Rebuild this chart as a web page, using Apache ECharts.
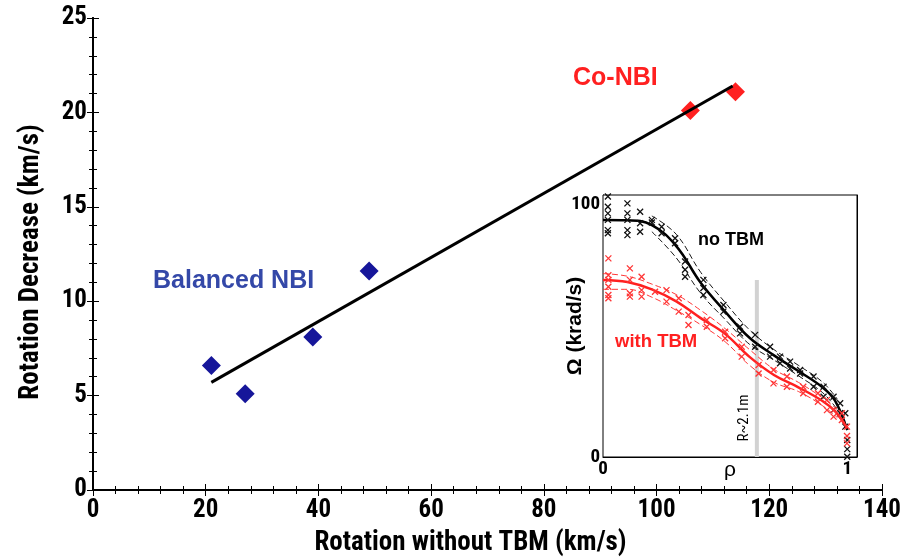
<!DOCTYPE html>
<html>
<head>
<meta charset="utf-8">
<script src="https://cdn.jsdelivr.net/npm/echarts@6/dist/echarts.min.js"></script>
<style>
html,body{margin:0;padding:0;background:#fff;}
#chart{width:913px;height:559px;}
</style>
</head>
<body>
<div id="chart"></div>
<script>
// ---- Main plot data ----
const balancedX = [21, 27, 39, 49];
const balancedY = [6.6, 5.1, 8.1, 11.6];
const coX = [106, 114];
const coY = [20.1, 21.1];
const fitX = [21, 113.5];
const fitY = [5.7, 21.4];
const xTicks = [0, 20, 40, 60, 80, 100, 120, 140];
const yTicks = [0, 5, 10, 15, 20, 25];

// ---- Inset data: no TBM (black) ----
const noTbmFitRho = [0, 0.1, 0.2, 0.3, 0.4, 0.5, 0.6, 0.7, 0.8, 0.9, 0.95, 1.0];
const noTbmFitOmega = [90.5, 90.4, 88.5, 80.5, 66.5, 55.5, 45.5, 38.8, 32.8, 26.5, 21.5, 10.3];
const noTbmUpRho = [0.2, 0.3, 0.4, 0.5, 0.6, 0.7, 0.8, 0.9, 0.96];
const noTbmUpOmega = [92, 85, 70.5, 59, 48.5, 41, 35, 28.5, 22];
const noTbmLoRho = [0.2, 0.3, 0.4, 0.5, 0.6, 0.7, 0.8, 0.9, 0.96];
const noTbmLoOmega = [86, 76, 62.5, 52.5, 43, 37, 31, 24.5, 18];
const noTbmPtRho = [0.02,0.02,0.02,0.02,0.02,0.02, 0.1,0.1,0.1,0.1,0.1, 0.152,0.152,0.152, 0.2,0.2, 0.24,0.24, 0.295,0.295, 0.336,0.336,0.336, 0.411,0.411,0.411, 0.493,0.493, 0.561,0.561, 0.623,0.623, 0.684,0.684, 0.725,0.725, 0.766,0.766, 0.807,0.807, 0.862,0.862, 0.903,0.903, 0.944,0.944, 0.971,0.971, 0.992,0.992, 1.0,1.0,1.0];
const noTbmPtOmega = [99.4,95.5,93,90.5,86.6,85.4, 96.8,93,90.5,86.6,84.7, 93.6,89.2,86.0, 90.5,89.5, 87.9,85.4, 83.5,81.6, 74.6,71.5,68.8, 67.6,64.5,61.8, 58,55.5, 49.7,47.2, 46.6,42.1, 42.1,38.3, 38.3,35.8, 36.4,33.8, 33.2,31.9, 30.7,26.8, 26.8,23, 23,17.9, 20.5,16.7, 16.7,11.6, 6.5,3.0,0.1];

// ---- Inset data: with TBM (red) ----
const withTbmFitRho = [0, 0.1, 0.2, 0.3, 0.4, 0.5, 0.6, 0.7, 0.8, 0.9, 0.95, 1.0];
const withTbmFitOmega = [67.6, 66.8, 64.0, 59.4, 53.0, 47.0, 38.2, 31.3, 26.6, 21.3, 17.5, 10.9];
const withTbmUpRho = [0, 0.1, 0.2, 0.3, 0.4, 0.5, 0.6, 0.7, 0.8, 0.9, 0.96];
const withTbmUpOmega = [70, 69, 66, 62, 56, 49, 41, 33.5, 28.5, 22.5, 18];
const withTbmLoRho = [0, 0.1, 0.2, 0.3, 0.4, 0.5, 0.6, 0.7, 0.8, 0.9, 0.96];
const withTbmLoOmega = [64, 64, 61, 56, 50.5, 44, 35, 28.5, 25, 19.5, 15];
const withTbmPtRho = [0.022,0.022,0.022,0.022,0.022,0.022, 0.11,0.11,0.11,0.11, 0.158,0.158,0.158, 0.213, 0.26,0.26, 0.31,0.31, 0.35,0.35, 0.425,0.425, 0.5,0.5, 0.568,0.568, 0.637,0.637, 0.698,0.698, 0.753,0.753, 0.82,0.82, 0.88,0.88, 0.917,0.917, 0.944,0.944, 0.978,0.978, 0.999,0.999,0.999];
const withTbmPtOmega = [75.8,69.4,67.6,65.0,61.8,60.6, 72,67.6,62.5,61.2, 68.8,63.7,61.2, 63.1, 63.7,59.3, 60.6,55.5, 54.2,50.4, 52.3,49.7, 47.8,45.3, 42.1,38.3, 35.1,31.9, 33.2,28.1, 30.7,26.8, 26.8,24.3, 24.3,21.1, 21.8,17.9, 17.9,15.4, 16.7,14.1, 11.6,8.0,5.2];

// vertical marker R~2.1m
const markerRho = [0.63, 0.63];
const markerOmega = [0, 67.6];

const insetXLabels = ['0', '1'];
const insetYLabels = ['0', '100'];

function zip(a, b) { return a.map((v, i) => [v, b[i]]); }

const COND = "Roboto, 'Open Sans', 'Liberation Sans', sans-serif";
const SANS = "'Liberation Sans', Arial, Helvetica, sans-serif";
const crossPath = 'path://M0 0L10 10M10 0L0 10';

const chart = echarts.init(document.getElementById('chart'), null, {renderer: 'canvas'});

const mainAxisLine = {show: true, lineStyle: {color: '#000', width: 2}};
const mainTick = {show: true, inside: true, length: 6, lineStyle: {color: '#000', width: 1}};
const mainMinor = {show: true, splitNumber: 5, length: 4, lineStyle: {color: '#000', width: 1}};

const option = {
  backgroundColor: '#fff',
  animation: false,
  grid: [
    {left: 93, right: 31, top: 18, bottom: 69, outerBoundsMode: 'none', containLabel: false},
    {left: 603, top: 195, width: 254, height: 262, show: true, backgroundColor: '#fff', borderColor: '#000', borderWidth: 1, outerBoundsMode: 'none', containLabel: false, z: 5}
  ],
  xAxis: [
    {
      gridIndex: 0, type: 'value', min: 0, max: 140, interval: 20, position: 'bottom',
      axisLine: mainAxisLine, axisTick: mainTick, minorTick: mainMinor,
      splitLine: {show: false},
      axisLabel: {
        margin: 8, color: '#000', fontFamily: COND, fontWeight: 'bold condensed', fontSize: 25,
        formatter: v => xTicks.includes(v) ? String(v) : ''
      },
      name: 'Rotation without TBM (km/s)', nameLocation: 'middle', nameGap: 40, nameMoveOverlap: false,
      nameTextStyle: {color: '#000', fontFamily: COND, fontWeight: 'bold condensed', fontSize: 27, padding: [0, 34, 0, 0]}
    },
    {
      gridIndex: 0, type: 'value', min: 0, max: 140, interval: 20, position: 'top',
      axisLine: mainAxisLine, axisTick: mainTick, minorTick: mainMinor,
      splitLine: {show: false}, axisLabel: {show: false}
    },
    {
      gridIndex: 1, type: 'value', min: 0, max: 1.04, interval: 0.2, position: 'bottom',
      axisLine: {show: true, lineStyle: {color: '#000', width: 1}},
      axisTick: {show: true, inside: true, length: 4, lineStyle: {color: '#000'}},
      splitLine: {show: false},
      axisLabel: {
        margin: 3, color: '#000', fontFamily: COND, fontWeight: 'bold condensed', fontSize: 19,
        showMaxLabel: false,
        formatter: v => Math.abs(v) < 1e-9 ? insetXLabels[0] : (Math.abs(v - 1) < 1e-9 ? insetXLabels[1] : '')
      },
      name: 'ρ', nameLocation: 'middle', nameGap: 3, nameMoveOverlap: false,
      nameTextStyle: {color: '#000', fontFamily: SANS, fontSize: 21, verticalAlign: 'top'}
    }
  ],
  yAxis: [
    {
      gridIndex: 0, type: 'value', min: 0, max: 25, interval: 5, position: 'left',
      axisLine: mainAxisLine, axisTick: mainTick, minorTick: mainMinor,
      splitLine: {show: false},
      axisLabel: {
        margin: 6, color: '#000', fontFamily: COND, fontWeight: 'bold condensed', fontSize: 25,
        formatter: v => yTicks.includes(v) ? String(v) : ''
      },
      name: 'Rotation Decrease (km/s)', nameLocation: 'middle', nameGap: 48, nameMoveOverlap: false,
      nameTextStyle: {color: '#000', fontFamily: COND, fontWeight: 'bold condensed', fontSize: 27, padding: [0, 16, 0, 0]}
    },
    {
      gridIndex: 0, type: 'value', min: 0, max: 25, interval: 5, position: 'right',
      axisLine: mainAxisLine, axisTick: mainTick, minorTick: mainMinor,
      splitLine: {show: false}, axisLabel: {show: false}
    },
    {
      gridIndex: 1, type: 'value', min: 0, max: 100, interval: 20, position: 'left',
      axisLine: {show: true, lineStyle: {color: '#000', width: 1}},
      axisTick: {show: false},
      splitLine: {show: false},
      axisLabel: {
        margin: 3, color: '#000', fontFamily: COND, fontWeight: 'bold condensed', fontSize: 19,
        verticalAlignMaxLabel: 'top',
        formatter: v => v === 0 ? insetYLabels[0] : (v === 100 ? insetYLabels[1] : '')
      },
      name: 'Ω (krad/s)', nameLocation: 'middle', nameGap: 17, nameMoveOverlap: false,
      nameTextStyle: {color: '#000', fontFamily: SANS, fontWeight: 'bold', fontSize: 21}
    },
    {
      gridIndex: 1, type: 'value', min: 0, max: 100, interval: 20, position: 'right',
      axisLine: {show: true, lineStyle: {color: '#000', width: 1}},
      axisTick: {show: true, inside: true, length: 4, lineStyle: {color: '#000'}},
      splitLine: {show: false}, axisLabel: {show: false}
    }
  ],
  series: [
    {
      type: 'line', xAxisIndex: 0, yAxisIndex: 0, data: zip(fitX, fitY),
      showSymbol: false, symbol: 'none', lineStyle: {color: '#000', width: 3}, z: 2
    },
    {
      type: 'scatter', xAxisIndex: 0, yAxisIndex: 0, data: zip(balancedX, balancedY),
      symbol: 'diamond', symbolSize: [19, 19], itemStyle: {color: '#16169a', opacity: 1}, z: 3
    },
    {
      type: 'scatter', xAxisIndex: 0, yAxisIndex: 0, data: zip(coX, coY),
      symbol: 'diamond', symbolSize: [19, 19], itemStyle: {color: '#ff2020', opacity: 1}, z: 1
    },
    // inset
    {
      type: 'line', xAxisIndex: 2, yAxisIndex: 2, data: zip(markerRho, markerOmega),
      symbol: 'none', lineStyle: {color: '#d2d2d2', width: 4}, z: 6
    },
    {
      type: 'scatter', xAxisIndex: 2, yAxisIndex: 2, data: zip(noTbmPtRho, noTbmPtOmega),
      symbol: crossPath, symbolSize: 6,
      itemStyle: {color: 'rgba(0,0,0,0)', borderColor: '#111', borderWidth: 1.3, opacity: 1}, z: 6
    },
    {
      type: 'line', xAxisIndex: 2, yAxisIndex: 2, data: zip(noTbmUpRho, noTbmUpOmega), smooth: 0.4,
      symbol: 'none', lineStyle: {color: '#000', width: 0.9, type: [6, 3]}, z: 6
    },
    {
      type: 'line', xAxisIndex: 2, yAxisIndex: 2, data: zip(noTbmLoRho, noTbmLoOmega), smooth: 0.4,
      symbol: 'none', lineStyle: {color: '#000', width: 0.9, type: [6, 3]}, z: 6
    },
    {
      type: 'line', xAxisIndex: 2, yAxisIndex: 2, data: zip(noTbmFitRho, noTbmFitOmega), smooth: 0.4,
      symbol: 'none', lineStyle: {color: '#000', width: 2.5}, z: 6
    },
    {
      type: 'scatter', xAxisIndex: 2, yAxisIndex: 2, data: zip(withTbmPtRho, withTbmPtOmega),
      symbol: crossPath, symbolSize: 6,
      itemStyle: {color: 'rgba(0,0,0,0)', borderColor: '#ff3535', borderWidth: 1.3, opacity: 1}, z: 7
    },
    {
      type: 'line', xAxisIndex: 2, yAxisIndex: 2, data: zip(withTbmUpRho, withTbmUpOmega), smooth: 0.4,
      symbol: 'none', lineStyle: {color: '#ff2020', width: 0.9, type: [6, 3]}, z: 7
    },
    {
      type: 'line', xAxisIndex: 2, yAxisIndex: 2, data: zip(withTbmLoRho, withTbmLoOmega), smooth: 0.4,
      symbol: 'none', lineStyle: {color: '#ff2020', width: 0.9, type: [6, 3]}, z: 7
    },
    {
      type: 'line', xAxisIndex: 2, yAxisIndex: 2, data: zip(withTbmFitRho, withTbmFitOmega), smooth: 0.4,
      symbol: 'none', lineStyle: {color: '#ff2020', width: 2.5}, z: 7
    }
  ],
  graphic: [
    {type: 'text', x: 153, y: 281, z: 10, style: {text: 'Balanced NBI', fill: '#3448a8', font: "bold 25px 'Liberation Sans', Arial, sans-serif", verticalAlign: 'middle'}},
    {type: 'text', x: 573, y: 78, z: 10, style: {text: 'Co-NBI', fill: '#ff2020', font: "bold 25px 'Liberation Sans', Arial, sans-serif", verticalAlign: 'middle'}},
    {type: 'text', x: 698, y: 240, z: 20, style: {text: 'no TBM', fill: '#000', font: "bold 18px 'Liberation Sans', Arial, sans-serif", verticalAlign: 'middle'}},
    {type: 'text', x: 615, y: 342, z: 20, style: {text: 'with TBM', fill: '#ff2020', font: "bold 18.5px 'Liberation Sans', Arial, sans-serif", verticalAlign: 'middle'}},
    {type: 'text', x: 744, y: 418, rotation: Math.PI / 2, z: 20, style: {text: 'R~2.1m', fill: '#000', font: "condensed 15px Roboto, 'Liberation Sans', Arial, sans-serif", align: 'center', verticalAlign: 'middle'}}
  ]
};

chart.setOption(option);
</script>
</body>
</html>
